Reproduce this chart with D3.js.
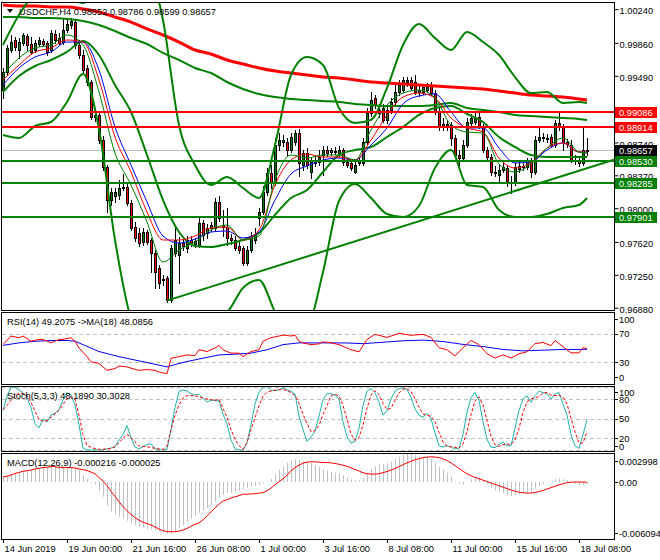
<!DOCTYPE html>
<html><head><meta charset="utf-8">
<script src="https://cdn.jsdelivr.net/npm/d3@7"></script>
<style>
body{margin:0;background:#fff}
svg{display:block}
text{font-family:"Liberation Sans",Arial,sans-serif;font-size:9.3px;fill:#000}
</style></head><body>
<svg id="c" width="660" height="560"></svg>
<script>
// ---------------- DATA ----------------
const symbolTitle = "USDCHF,H4 0.98652 0.98786 0.98599 0.98657";
const timeTickBars = [0,16,32,48,64,80,96,112,128,144];
const timeTickLabels = ["14 Jun 2019","19 Jun 00:00","21 Jun 16:00","26 Jun 08:00","1 Jul 00:00","3 Jul 16:00","8 Jul 08:00","11 Jul 00:00","15 Jul 16:00","18 Jul 08:00"];
const priceTicks = [1.0024,0.9986,0.9949,0.9874,0.9837,0.9800,0.9762,0.9725,0.9688];

const opens = [0.99330,0.99532,0.99780,0.99893,0.99780,0.99859,0.99938,0.99848,0.99780,0.99848,
0.99882,0.99859,0.99780,0.99960,0.99915,0.99870,1.00005,1.00062,1.00095,0.99837,
0.99724,0.99578,0.99420,0.99026,0.99049,0.98767,0.98464,0.98092,0.98137,0.98149,
0.98227,0.98239,0.98058,0.97788,0.97721,0.97620,0.97732,0.97642,0.97496,0.97327,
0.97192,0.97214,0.96967,0.97496,0.97474,0.97608,0.97552,0.97642,0.97597,0.97586,
0.97833,0.97721,0.97777,0.97777,0.98070,0.97811,0.97788,0.97665,0.97642,0.97575,
0.97552,0.97383,0.97530,0.97642,0.97890,0.97957,0.98182,0.98396,0.98284,0.98711,
0.98745,0.98745,0.98655,0.98745,0.98846,0.98486,0.98621,0.98407,0.98520,0.98520,
0.98599,0.98655,0.98632,0.98644,0.98621,0.98655,0.98520,0.98509,0.98407,0.98509,
0.98509,0.98745,0.99071,0.99240,0.99071,0.99128,0.98993,0.99105,0.99195,0.99308,
0.99330,0.99420,0.99443,0.99420,0.99308,0.99308,0.99330,0.99386,0.99296,0.99083,
0.98948,0.98948,0.98936,0.98790,0.98599,0.98565,0.98711,0.98959,0.98970,0.99026,
0.98914,0.98655,0.98576,0.98407,0.98374,0.98430,0.98452,0.98284,0.98284,0.98441,
0.98464,0.98464,0.98520,0.98407,0.98767,0.98801,0.98790,0.98801,0.98711,0.98959,
0.98914,0.98745,0.98711,0.98542,0.98542,0.98509,0.98652];
const highs = [0.99578,0.99837,0.99949,0.99927,0.99915,0.99972,0.99960,0.99927,0.99893,0.99927,
0.99904,0.99882,1.00005,1.00005,0.99972,1.00140,1.00118,1.00140,1.00118,0.99893,
0.99780,0.99611,0.99443,0.99105,0.99083,0.98813,0.98486,0.98227,0.98227,0.98317,
0.98385,0.98284,0.98092,0.97845,0.97777,0.97777,0.97755,0.97665,0.97530,0.97361,
0.97248,0.97237,0.97586,0.97777,0.97676,0.97642,0.97687,0.97687,0.97665,0.97890,
0.97867,0.97822,0.97845,0.98115,0.98137,0.97980,0.98002,0.97710,0.97687,0.97620,
0.97575,0.97575,0.97732,0.97777,0.98002,0.98250,0.98452,0.98486,0.98790,0.98846,
0.98824,0.98790,0.98846,0.98880,0.98891,0.98655,0.98677,0.98565,0.98587,0.98655,
0.98700,0.98700,0.98677,0.98689,0.98700,0.98677,0.98554,0.98542,0.98542,0.98576,
0.98790,0.99128,0.99308,0.99274,0.99173,0.99173,0.99139,0.99240,0.99386,0.99443,
0.99476,0.99476,0.99476,0.99499,0.99375,0.99398,0.99409,0.99420,0.99330,0.99128,
0.99015,0.98993,0.98970,0.98824,0.98655,0.98767,0.99015,0.99060,0.99083,0.99071,
0.98948,0.98689,0.98610,0.98475,0.98486,0.98509,0.98486,0.98362,0.98509,0.98520,
0.98509,0.98565,0.98565,0.98813,0.98914,0.98846,0.98835,0.98835,0.98993,0.99071,
0.98948,0.98779,0.98767,0.98599,0.98576,0.98914,0.98786];
const lows = [0.99240,0.99499,0.99758,0.99780,0.99690,0.99837,0.99780,0.99735,0.99758,0.99825,
0.99825,0.99724,0.99758,0.99859,0.99848,0.99848,0.99983,1.00028,0.99803,0.99690,
0.99532,0.99386,0.99004,0.98981,0.98734,0.98430,0.97957,0.98036,0.98070,0.98104,
0.98205,0.98036,0.97755,0.97631,0.97575,0.97586,0.97597,0.97282,0.97102,0.97102,
0.97136,0.96944,0.96944,0.97462,0.97158,0.97530,0.97507,0.97575,0.97563,0.97563,
0.97642,0.97665,0.97743,0.97755,0.97856,0.97687,0.97586,0.97597,0.97530,0.97496,
0.97361,0.97361,0.97507,0.97608,0.97811,0.97935,0.98149,0.98227,0.98261,0.98655,
0.98700,0.98599,0.98632,0.98711,0.98362,0.98430,0.98452,0.98340,0.98475,0.98486,
0.98374,0.98587,0.98599,0.98610,0.98587,0.98486,0.98464,0.98430,0.98396,0.98486,
0.98486,0.98711,0.99038,0.99128,0.99026,0.98970,0.98959,0.99071,0.99173,0.99274,
0.99308,0.99375,0.99330,0.99285,0.99263,0.99285,0.99308,0.99274,0.99060,0.98880,
0.98880,0.98880,0.98711,0.98565,0.98452,0.98542,0.98689,0.98936,0.98948,0.98903,
0.98632,0.98542,0.98374,0.98362,0.98295,0.98407,0.98250,0.98171,0.98261,0.98407,
0.98430,0.98441,0.98351,0.98385,0.98745,0.98756,0.98745,0.98689,0.98689,0.98880,
0.98655,0.98689,0.98520,0.98497,0.98475,0.98486,0.98599];
const closes = [0.99532,0.99803,0.99870,0.99814,0.99870,0.99949,0.99837,0.99758,0.99859,0.99893,
0.99848,0.99758,0.99972,0.99893,0.99859,1.00005,1.00073,1.00107,0.99837,0.99724,
0.99555,0.99420,0.99026,0.99049,0.98767,0.98464,0.98092,0.98182,0.98182,0.98227,
0.98239,0.98058,0.97777,0.97665,0.97608,0.97732,0.97620,0.97496,0.97282,0.97158,
0.97203,0.96967,0.97552,0.97642,0.97608,0.97575,0.97642,0.97608,0.97631,0.97833,
0.97698,0.97777,0.97811,0.98070,0.97890,0.97788,0.97665,0.97642,0.97552,0.97530,
0.97383,0.97530,0.97676,0.97710,0.97957,0.98182,0.98396,0.98284,0.98711,0.98767,
0.98767,0.98655,0.98801,0.98846,0.98509,0.98621,0.98486,0.98520,0.98509,0.98576,
0.98655,0.98621,0.98655,0.98644,0.98655,0.98520,0.98486,0.98452,0.98486,0.98542,
0.98745,0.99071,0.99218,0.99161,0.99105,0.98993,0.99105,0.99195,0.99308,0.99386,
0.99443,0.99443,0.99353,0.99308,0.99330,0.99364,0.99386,0.99296,0.99083,0.98914,
0.98925,0.98936,0.98790,0.98599,0.98565,0.98711,0.98970,0.99015,0.99026,0.98914,
0.98655,0.98576,0.98407,0.98396,0.98430,0.98464,0.98284,0.98295,0.98464,0.98475,
0.98475,0.98520,0.98407,0.98767,0.98801,0.98790,0.98779,0.98711,0.98959,0.98914,
0.98745,0.98722,0.98542,0.98531,0.98509,0.98655,0.98657];

// overlay lines sampled every 4 bars
const ovBars = [0,4,8,12,16,20,24,28,32,36,40,44,48,52,56,60,64,68,72,76,80,84,88,92,96,100,104,108,112,116,120,124,128,132,136,140,144,146];
const maFast = [0.99499,0.99690,0.99803,0.99837,0.99949,0.99837,0.99308,0.98621,0.98261,0.97845,0.97394,0.97530,0.97620,0.97755,0.97811,0.97642,0.97687,0.98317,0.98599,0.98565,0.98599,0.98599,0.98542,0.98880,0.99161,0.99296,0.99330,0.99240,0.98936,0.98857,0.98846,0.98497,0.98407,0.98497,0.98677,0.98790,0.98632,0.98621];
const maMid = [0.99443,0.99611,0.99758,0.99803,0.99893,0.99870,0.99443,0.98801,0.98407,0.97957,0.97642,0.97642,0.97687,0.97777,0.97788,0.97642,0.97755,0.98261,0.98542,0.98610,0.98576,0.98576,0.98542,0.98767,0.99049,0.99251,0.99296,0.99240,0.99015,0.98903,0.98857,0.98565,0.98452,0.98509,0.98677,0.98734,0.98632,0.98632];
const maSlow = [0.99386,0.99578,0.99701,0.99758,0.99870,0.99870,0.99555,0.98914,0.98486,0.98070,0.97687,0.97608,0.97653,0.97732,0.97743,0.97665,0.97732,0.98092,0.98385,0.98475,0.98542,0.98565,0.98542,0.98711,0.98903,0.99173,0.99263,0.99285,0.99083,0.98903,0.98903,0.98677,0.98509,0.98520,0.98655,0.98734,0.98632,0.98632];
const bbUpper = [0.99837,1.00174,1.00399,1.00433,1.00377,1.00309,1.00568,1.01018,1.01243,1.00793,1.00118,0.98936,0.98486,0.98261,0.98351,0.98227,0.98115,0.98711,0.99499,0.99701,0.99611,0.99128,0.98959,0.98993,0.99353,0.99837,1.00073,0.99915,0.99780,0.99983,0.99870,0.99724,0.99476,0.99296,0.99308,0.99184,0.99195,0.99184];
const bbMiddle = [0.99308,0.99488,0.99600,0.99668,0.99758,0.99882,0.99724,0.99386,0.99083,0.98599,0.98092,0.97732,0.97575,0.97563,0.97597,0.97642,0.97721,0.97924,0.98115,0.98205,0.98407,0.98599,0.98655,0.98689,0.98801,0.98914,0.99049,0.99128,0.99150,0.99060,0.98970,0.98801,0.98689,0.98599,0.98576,0.98576,0.98576,0.98576];
const bbLower = [0.98824,0.98790,0.98925,0.98970,0.99195,0.99510,0.98891,0.97642,0.96742,0.96292,0.95841,0.96404,0.96629,0.96764,0.96832,0.97102,0.97192,0.96832,0.96517,0.96629,0.97282,0.98081,0.98272,0.98115,0.97935,0.97901,0.98025,0.98452,0.98655,0.98261,0.98239,0.97980,0.97901,0.97901,0.97935,0.98002,0.98036,0.98115];
const maLongGreen = [1.00152,1.00152,1.00140,1.00140,1.00129,1.00107,1.00062,0.99994,0.99915,0.99848,0.99747,0.99668,0.99578,0.99521,0.99420,0.99341,0.99285,0.99251,0.99229,0.99218,0.99206,0.99195,0.99173,0.99161,0.99150,0.99150,0.99150,0.99161,0.99184,0.99128,0.99105,0.99083,0.99049,0.99038,0.99026,0.99015,0.99004,0.98993];
const maLongRed = [1.00287,1.00275,1.00275,1.00264,1.00264,1.00242,1.00208,1.00152,1.00095,1.00017,0.99949,0.99870,0.99780,0.99735,0.99668,0.99623,0.99578,0.99544,0.99521,0.99499,0.99476,0.99465,0.99443,0.99420,0.99409,0.99398,0.99386,0.99375,0.99364,0.99353,0.99341,0.99319,0.99296,0.99274,0.99263,0.99251,0.99229,0.99218];

const levelPrices = [0.99086,0.98914,0.98530,0.98285,0.97901];
const levelColors = ["#ff0000","#ff0000","#008000","#008000","#008000"];
const lastPrice = 0.98657;
const trendBars = [41,152.75];
const trendPrices = [0.96960,0.98545];

// RSI
const rsiBars = [0,2,4,5,7,9,10,12,14,15,17,18,19,21,22,24,25,26,28,29,31,33,34,36,38,39,41,42,44,46,48,49,51,53,54,55,57,59,60,62,64,65,67,69,70,72,73,74,75,77,79,80,82,84,87,89,91,93,96,99,102,105,107,109,111,113,115,117,119,121,123,125,127,129,131,133,135,137,138,140,142,144,145,146];
const rsiVals = [54.7,66.6,64.3,66.6,59.4,61.9,61.9,57.1,61.9,61.9,64.3,59.4,50,38,30.9,28.6,23.7,19,21.4,25.1,23.7,20.4,19,20,19,16.6,14.3,35.7,38,40.4,39.4,47.6,45.1,50,53.7,47.6,42.9,42.9,38,45.1,47.6,59.4,64.3,66.6,68,66.6,68,59.4,57.1,54.7,55.7,58.6,57.1,54.7,47.6,44.7,61.9,69,64.7,70.4,67.6,69,64.7,50.4,47.6,39,50.4,60.4,54.7,41.9,36.1,40.4,36.1,41.9,44.7,56.1,57.6,53.3,60.4,51.9,43.3,43.3,50.4,49.21];
const rsiMaBars = [0,4,8,12,16,18,21,24,29,33,37,41,45,49,54,58,62,66,70,74,79,82,86,90,95,100,105,110,115,120,125,130,135,140,146];
const rsiMaVals = [53.7,57.1,59.4,60.4,60.4,59.4,52.3,45.1,38,33.3,28.6,23.7,30,34.7,40.4,41.4,42.9,47.6,54.7,57.1,57.1,57.1,57,56,58,60,61,59,55,52,48,46,47,48,48.09];
const rsiLevels = [70,30];
const rsiAxis = [100,70,30,0];

// Stochastic (per bar)
const stochK = [62.2,84.1,98.2,98.2,94,89.9,82.6,66.9,41.8,35.5,49.6,44.4,55.4,58,63.7,78.4,89.9,86.2,70.5,40.8,
4.2,1.6,1.6,1.6,1.6,1.6,3.1,4.7,6.3,17.2,25.1,39.2,20.4,6.3,3.1,6.8,9.9,11,3.6,1.6,
1.6,2.6,32.9,66.9,91.4,94,92.4,88.3,86.2,87.3,81,75.2,78.4,77.3,77.3,56.4,41.3,17.2,3.6,1.6,
1.6,12.1,40.8,72.1,90.4,97.7,99.2,92.9,92.9,94,96.7,94,91.9,87.8,53.8,32.9,14.7,21.5,30.3,53.8,
78.9,88.3,88,86,80,45,22,12,15,35,70,92,96,90,75,55,62,80,92,96,
97,95,82,65,55,52,58,50,28,8,6,8,6,3,4,25,60,82,90,78,
45,18,6,5,10,14,8,8,35,62,80,85,75,85,92,90,88,80,88,90,
72,55,25,8,4,25,48.19];
const stochD = [63.8,70,77.9,84.6,89.3,88.3,84.6,74.7,61.6,48.6,46,46.5,51.7,56.9,62.7,71.5,80.4,83.5,79.9,54.9,
25.1,8.9,5.8,3.6,2.6,2.6,3.6,3.6,6.3,13,19.3,25.6,20.9,14.1,7.8,6.8,6.8,5.2,4.2,3.1,
2.6,7.3,32.9,54.9,71,81,85.2,85.2,85.2,83.1,81.5,79.9,78.9,77.8,79.9,65.3,52.2,32.9,18.3,8.4,
2.6,13,32.9,51.2,69.5,84.1,90.4,92.4,93.5,94.5,94.5,92.9,89.9,85.2,73.6,56.4,42.3,29.8,31.3,39.2,
56.4,69.5,85,87.4,84.7,70.3,49,26.3,16.3,20.7,40,65.7,86,92.7,87,73.3,64,65.7,78,89.3,
95,96,91.3,80.7,67.3,57.3,55,53.3,45.3,28.7,14,7.3,6.7,5.7,4.3,10.7,29.7,55.7,77.3,83.3,
71,47,23,9.7,7,9.7,10.7,10,17,35,59,75.7,80,81.7,84,89,90,86,85.3,86,
83.3,72.3,50.7,29.3,12.3,12.3,30.30];
const stochLevels = [100,80,50,20,0];

// MACD (per bar)
const macdMain = [0.00056,0.00070,0.00084,0.00095,0.00100,0.00106,0.00117,0.00128,0.00139,0.00147,
0.00154,0.00161,0.00169,0.00172,0.00169,0.00165,0.00161,0.00158,0.00147,0.00125,
0.00070,0.00030,-0.00007,-0.00028,-0.00091,-0.00157,-0.00255,-0.00321,-0.00350,-0.00371,
-0.00393,-0.00415,-0.00437,-0.00459,-0.00478,-0.00489,-0.00500,-0.00507,-0.00518,-0.00529,
-0.00540,-0.00558,-0.00551,-0.00529,-0.00492,-0.00459,-0.00426,-0.00393,-0.00360,-0.00328,
-0.00302,-0.00280,-0.00248,-0.00211,-0.00168,-0.00138,-0.00119,-0.00116,-0.00108,-0.00087,
-0.00076,-0.00065,-0.00054,-0.00043,-0.00032,-0.00010,0.00004,0.00034,0.00089,0.00133,
0.00165,0.00209,0.00231,0.00245,0.00231,0.00220,0.00209,0.00202,0.00187,0.00161,
0.00136,0.00122,0.0011,0.0010,0.0009,0.0007,0.0005,0.0003,0.0002,0.0002,
0.0004,0.0009,0.0014,0.0017,0.0019,0.0019,0.0020,0.0022,0.0025,0.0027,
0.0029,0.0030,0.0030,0.0029,0.0028,0.0027,0.0027,0.0025,0.0021,0.0016,
0.0013,0.0010,0.0006,0.0001,-0.0002,-0.0003,0.0000,0.0003,0.0005,0.0005,
0.0002,-0.0002,-0.0006,-0.0009,-0.0011,-0.0012,-0.0014,-0.0015,-0.0014,-0.0013,
-0.0012,-0.0011,-0.0011,-0.0007,-0.0004,-0.0002,0.0000,0.0000,0.0003,0.0004,
0.0003,0.0002,-0.0001,-0.0002,-0.0004,-0.0003,-0.000216];
const macdSignal = [0.00056,0.00062,0.00073,0.00092,0.00103,0.00114,0.00121,0.00128,0.00139,0.00147,
0.00154,0.00158,0.00165,0.00165,0.00158,0.00154,0.00154,0.00154,0.00150,0.00139,
0.00133,0.00122,0.00106,0.00089,0.00048,0.00012,-0.00039,-0.00098,-0.00152,-0.00211,
-0.00262,-0.00306,-0.00346,-0.00382,-0.00408,-0.00430,-0.00445,-0.00459,-0.00481,-0.00503,
-0.00521,-0.00529,-0.00532,-0.00532,-0.00525,-0.00514,-0.00496,-0.00474,-0.00452,-0.00437,
-0.00404,-0.00365,-0.00321,-0.00277,-0.00237,-0.00204,-0.00190,-0.00171,-0.00157,-0.00146,
-0.00130,-0.00130,-0.00127,-0.00124,-0.00119,-0.00113,-0.00094,-0.00065,-0.00028,0.00004,
0.00034,0.00073,0.00122,0.00154,0.00180,0.00202,0.00213,0.00216,0.00216,0.00213,
0.00209,0.00209,0.00205,0.00198,0.00190,0.00180,0.00168,0.00152,0.00135,0.00118,
0.00100,0.00090,0.00085,0.00085,0.00090,0.00100,0.00112,0.00127,0.00145,0.00165,
0.00185,0.00205,0.00222,0.00238,0.00250,0.00260,0.00267,0.00270,0.00268,0.00260,
0.00248,0.00230,0.00205,0.00175,0.00145,0.00115,0.00088,0.00068,0.00050,0.00035,
0.00020,0.00005,-0.00010,-0.00025,-0.00040,-0.00055,-0.00070,-0.00085,-0.00098,-0.00108,
-0.00115,-0.00118,-0.00118,-0.00112,-0.00102,-0.00090,-0.00075,-0.00060,-0.00045,-0.00030,
-0.00018,-0.00008,-0.00002,0.00001,0.00000,-0.00001,-0.000025];
const macdAxis = [0.002998,0.0,-0.006094];

// ---------------- DRAW ----------------
const svg = d3.select("#c");
const N = closes.length;
const x = d3.scaleLinear().domain([0,146]).range([3,587]);
const yP = d3.scaleLinear().domain([0.968543,1.003092]).range([310,3]);
const yR = d3.scaleLinear().domain([0,100]).range([384,312]);
const yS = d3.scaleLinear().domain([0,100]).range([451,386]);
const yM = d3.scaleLinear().domain([-0.006094,0.002998]).range([539,454]);

const panels = [{id:"pm",t:2,b:310},{id:"pr",t:312,b:384},{id:"ps",t:386,b:451},{id:"pd",t:453,b:539}];
const defs = svg.append("defs");
panels.forEach(p=>{
  defs.append("clipPath").attr("id",p.id).append("rect")
    .attr("x",2).attr("y",p.t+1).attr("width",612).attr("height",p.b-p.t-1);
});

// main panel
const gm = svg.append("g").attr("clip-path","url(#pm)");
gm.append("line").attr("x1",2).attr("x2",614)
  .attr("y1",Math.round(yP(lastPrice))+0.5).attr("y2",Math.round(yP(lastPrice))+0.5)
  .attr("stroke","#c0c0c0").attr("stroke-width",1);

// candles
const cg = gm.append("g");
for(let i=0;i<N;i++){
  const cx = Math.round(x(i));
  const o=opens[i], c=closes[i], h=highs[i], l=lows[i];
  cg.append("line").attr("x1",cx+0.5).attr("x2",cx+0.5)
    .attr("y1",Math.round(yP(h))).attr("y2",Math.round(yP(l))+1)
    .attr("stroke","#000").attr("stroke-width",1);
  const top = Math.round(yP(Math.max(o,c))), bot = Math.round(yP(Math.min(o,c)));
  const hgt = Math.max(bot-top,1);
  cg.append("rect").attr("x",cx-0.5).attr("y",top+0.5).attr("width",2).attr("height",hgt)
    .attr("fill", c>=o ? "#008000" : "#ff0000").attr("stroke","#000").attr("stroke-width",1);
}

const lineOv = (vals,color,w)=>{
  const pts = ovBars.map((b,k)=>[x(b),yP(vals[k])]);
  gm.append("path").attr("d",d3.line().curve(d3.curveMonotoneX)(pts))
    .attr("fill","none").attr("stroke",color).attr("stroke-width",w);
};
lineOv(maLongRed,"#ff0000",3);
lineOv(maLongGreen,"#008000",2);
lineOv(bbUpper,"#008000",2);
lineOv(bbMiddle,"#008000",2);
lineOv(bbLower,"#008000",2);
lineOv(maSlow,"#0000ff",1);
lineOv(maMid,"#ff0000",1);
lineOv(maFast,"#008000",1);

levelPrices.forEach((p,k)=>{
  const yy = Math.round(yP(p));
  gm.append("line").attr("x1",2).attr("x2",614).attr("y1",yy).attr("y2",yy)
    .attr("stroke",levelColors[k]).attr("stroke-width",2);
});
gm.append("line").attr("x1",x(trendBars[0])).attr("y1",yP(trendPrices[0]))
  .attr("x2",x(trendBars[1])).attr("y2",yP(trendPrices[1]))
  .attr("stroke","#008000").attr("stroke-width",2);

// RSI panel
const gr = svg.append("g").attr("clip-path","url(#pr)");
rsiLevels.forEach(v=>{
  gr.append("line").attr("x1",2).attr("x2",614).attr("y1",Math.round(yR(v))+0.5).attr("y2",Math.round(yR(v))+0.5)
    .attr("stroke","#c0c0c0").attr("stroke-dasharray","4,3");
});
gr.append("path").attr("d",d3.line()(rsiMaBars.map((b,k)=>[x(b),yR(rsiMaVals[k])])))
  .attr("fill","none").attr("stroke","#0000ff").attr("stroke-width",1);
gr.append("path").attr("d",d3.line()(rsiBars.map((b,k)=>[x(b),yR(rsiVals[k])])))
  .attr("fill","none").attr("stroke","#ff0000").attr("stroke-width",1);

// Stoch panel
const gs = svg.append("g").attr("clip-path","url(#ps)");
stochLevels.forEach(v=>{
  let yy = Math.round(yS(v))+0.5; if(v===0) yy-=1; if(v===100) yy+=1;
  gs.append("line").attr("x1",2).attr("x2",614).attr("y1",yy).attr("y2",yy)
    .attr("stroke","#c0c0c0").attr("stroke-dasharray","4,3");
});
gs.append("path").attr("d",d3.line()(stochK.map((v,i)=>[x(i),yS(v)])))
  .attr("fill","none").attr("stroke","#20b2aa").attr("stroke-width",1);
gs.append("path").attr("d",d3.line()(stochD.map((v,i)=>[x(i),yS(v)])))
  .attr("fill","none").attr("stroke","#ff0000").attr("stroke-width",1).attr("stroke-dasharray","3,2");

// MACD panel
const gd = svg.append("g").attr("clip-path","url(#pd)");
macdMain.forEach((v,i)=>{
  const cx = Math.round(x(i))+0.5;
  gd.append("line").attr("x1",cx).attr("x2",cx).attr("y1",yM(0)).attr("y2",yM(v))
    .attr("stroke","#c0c0c0").attr("stroke-width",1);
});
gd.append("path").attr("d",d3.line()(macdSignal.map((v,i)=>[x(i),yM(v)])))
  .attr("fill","none").attr("stroke","#ff0000").attr("stroke-width",1);

// panel borders
panels.forEach(p=>{
  svg.append("rect").attr("x",1.5).attr("y",p.t+0.5).attr("width",613).attr("height",p.b-p.t)
    .attr("fill","none").attr("stroke","#000").attr("stroke-width",1);
});

// price axis
const pa = svg.append("g").attr("transform","translate(614.5,0)")
  .call(d3.axisRight(yP).tickValues(priceTicks).tickSize(4).tickPadding(1).tickFormat(d3.format(".5f")));
pa.select(".domain").remove();
pa.selectAll("text").attr("dy","0.5em").attr("font-family",null).attr("font-size",null);
pa.selectAll("line").attr("stroke","#000");

// level boxes
const boxes = levelPrices.map((p,k)=>({p,c:levelColors[k]})).concat([{p:lastPrice,c:"#000"}]);
boxes.forEach(b=>{
  const yy = Math.round(yP(b.p));
  svg.append("rect").attr("x",615).attr("y",yy-5).attr("width",42).attr("height",11).attr("fill",b.c);
  svg.append("text").attr("x",619).attr("y",yy+4).style("fill","#fff").text(d3.format(".5f")(b.p));
});

// indicator axes
const sideLabel=(txt,yc)=>{
  svg.append("line").attr("x1",614).attr("x2",618).attr("y1",Math.round(yc)+0.5).attr("y2",Math.round(yc)+0.5).attr("stroke","#000");
  svg.append("text").attr("x",619).attr("y",yc+3.5).text(txt);
};
rsiAxis.forEach(v=>{ sideLabel(String(v), Math.min(Math.max(yR(v),319),377)); });
stochLevels.forEach(v=>{ sideLabel(String(v), Math.min(Math.max(yS(v),392),446)); });
macdAxis.forEach(v=>{ sideLabel(v===0?"0.00":String(v), Math.min(Math.max(yM(v),461),533)); });

// time axis
const ta = svg.append("g").attr("transform","translate(0,539)")
  .call(d3.axisBottom(x).tickValues(timeTickBars).tickSize(4).tickFormat((d,k)=>timeTickLabels[k]));
ta.select(".domain").remove();
ta.selectAll(".tick").attr("transform",d=>`translate(${Math.round(x(d))+0.5},0)`);
ta.selectAll("line").attr("stroke","#000");
ta.selectAll("text").attr("text-anchor","start").attr("x",1).attr("y",6.5).attr("dy","0.71em")
  .attr("font-family",null).attr("font-size",null);

// titles
svg.append("path").attr("d","M7,9L13,9L10,13Z").attr("fill","#000");
svg.append("text").attr("x",19).attr("y",14.5).text(symbolTitle);
svg.append("text").attr("x",7).attr("y",324.5).text("RSI(14) 49.2075  ->MA(18) 48.0856");
svg.append("text").attr("x",7).attr("y",398.5).text("Stoch(5,3,3) 48.1890 30.3028");
svg.append("text").attr("x",7).attr("y",466).text("MACD(12,26,9) -0.000216 -0.000025");
</script></body></html>
